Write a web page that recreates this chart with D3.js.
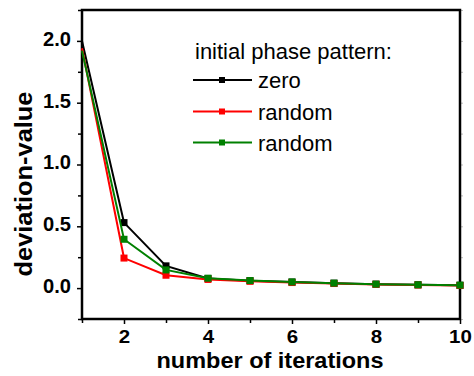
<!DOCTYPE html>
<html>
<head>
<meta charset="utf-8">
<script src="https://cdn.jsdelivr.net/npm/d3@7/dist/d3.min.js"></script>
<style>
  html, body { margin: 0; padding: 0; background: #fff; }
  svg { display: block; }
  text { font-family: "Liberation Sans", Arial, sans-serif; }
</style>
</head>
<body>
<svg id="chart" width="474" height="376"></svg>
<script>
const iterations = [1, 2, 3, 4, 5, 6, 7, 8, 9, 10];
const zeroSeries   = [2.00, 0.53, 0.180, 0.078, 0.060, 0.049, 0.040, 0.032, 0.027, 0.023];
const randomSeries1 = [1.94, 0.243, 0.104, 0.070, 0.055, 0.045, 0.037, 0.030, 0.025, 0.021];
const randomSeries2 = [1.92, 0.395, 0.147, 0.080, 0.061, 0.050, 0.040, 0.032, 0.027, 0.024];
const seriesNames = ["zero", "random", "random"];
const seriesColors = ["#000000", "#ff0000", "#008000"];
const xTickValues = [2, 4, 6, 8, 10];
const yTickValues = [0.0, 0.5, 1.0, 1.5, 2.0];
const legendTitle = "initial phase pattern:";
const xTitle = "number of iterations";
const yTitle = "deviation-value";

const svg = d3.select("#chart");
const L = 82, R = 460, T = 10, B = 319;

const x = d3.scaleLinear().domain([1, 10]).range([L, R]);
const y = d3.scaleLinear().domain([-0.25, 2.25]).range([B, T]);

const xMinor = d3.range(1, 11, 1).filter(v => !xTickValues.includes(v));
const yMinor = d3.range(-0.25, 2.26, 0.25).map(v => +v.toFixed(2)).filter(v => !yTickValues.includes(v));

const gx = svg.append("g").attr("transform", `translate(0,${B})`);
gx.call(d3.axisBottom(x).tickValues(xTickValues).tickFormat(d3.format("d")).tickSize(5).tickSizeOuter(0));
const gxm = svg.append("g").attr("transform", `translate(0,${B})`);
gxm.call(d3.axisBottom(x).tickValues(xMinor).tickFormat("").tickSize(4).tickSizeOuter(0));

const gy = svg.append("g").attr("transform", `translate(${L},0)`);
gy.call(d3.axisLeft(y).tickValues(yTickValues).tickFormat(d3.format(".1f")).tickSize(5).tickSizeOuter(0));
const gym = svg.append("g").attr("transform", `translate(${L},0)`);
gym.call(d3.axisLeft(y).tickValues(yMinor).tickFormat("").tickSize(4).tickSizeOuter(0));

const gr = svg.append("g").attr("transform", `translate(${R},0)`);
gr.call(d3.axisRight(y).tickValues(yTickValues.concat(yMinor)).tickFormat("").tickSize(3).tickSizeOuter(0));
gr.selectAll("line").attr("stroke", "#bbb");
gr.select(".domain").remove();

[gx, gxm, gy, gym].forEach(g => {
  g.select(".domain").remove();
  g.selectAll("line").attr("stroke", "#000").attr("stroke-width", 1.5);
});

gx.selectAll("text")
  .attr("font-size", 19).attr("font-weight", "bold").attr("fill", "#000")
  .attr("dy", "0.92em").attr("y", 7)
  .attr("transform", "scale(1.08,1)").attr("x", 0);
gy.selectAll("text")
  .attr("font-size", 20).attr("font-weight", "bold").attr("fill", "#000")
  .attr("x", -11).attr("dy", "0.22em")
  .attr("textLength", 28).attr("lengthAdjust", "spacingAndGlyphs");

svg.append("rect")
  .attr("x", L).attr("y", T).attr("width", R - L).attr("height", B - T)
  .attr("fill", "none").attr("stroke", "#000").attr("stroke-width", 2.5);

const allSeries = [zeroSeries, randomSeries1, randomSeries2];
const line = d3.line().x((d, i) => x(iterations[i])).y(d => y(d));
allSeries.forEach((s, k) => {
  svg.append("path").datum(s)
    .attr("d", line)
    .attr("fill", "none")
    .attr("stroke", seriesColors[k])
    .attr("stroke-width", 2);
  svg.append("g").selectAll("rect").data(s.map((v, i) => ({v, i})).filter(d => d.i > 0)).join("rect")
    .attr("x", d => x(iterations[d.i]) - 3.5)
    .attr("y", d => y(d.v) - 3.5)
    .attr("width", 7).attr("height", 7)
    .attr("fill", seriesColors[k]);
});

svg.append("text").attr("x", 195).attr("y", 59)
  .attr("font-size", 22).attr("fill", "#000").text(legendTitle);
const legRows = [80, 111.5, 142.5];
seriesNames.forEach((name, k) => {
  const ly = legRows[k];
  svg.append("line").attr("x1", 193).attr("x2", 252).attr("y1", ly).attr("y2", ly)
    .attr("stroke", seriesColors[k]).attr("stroke-width", 2);
  svg.append("rect").attr("x", 222 - 3).attr("y", ly - 3).attr("width", 6).attr("height", 6)
    .attr("fill", seriesColors[k]);
  svg.append("text").attr("x", 258).attr("y", ly + 8)
    .attr("font-size", 22).attr("fill", "#000").text(name);
});

svg.append("text")
  .attr("x", 270).attr("y", 368)
  .attr("text-anchor", "middle")
  .attr("font-size", 22).attr("font-weight", "bold")
  .attr("textLength", 227).attr("lengthAdjust", "spacingAndGlyphs")
  .text(xTitle);
svg.append("text")
  .attr("transform", "translate(32,184) rotate(-90)")
  .attr("text-anchor", "middle")
  .attr("font-size", 23).attr("font-weight", "bold")
  .attr("textLength", 185).attr("lengthAdjust", "spacingAndGlyphs")
  .text(yTitle);
</script>
</body>
</html>
